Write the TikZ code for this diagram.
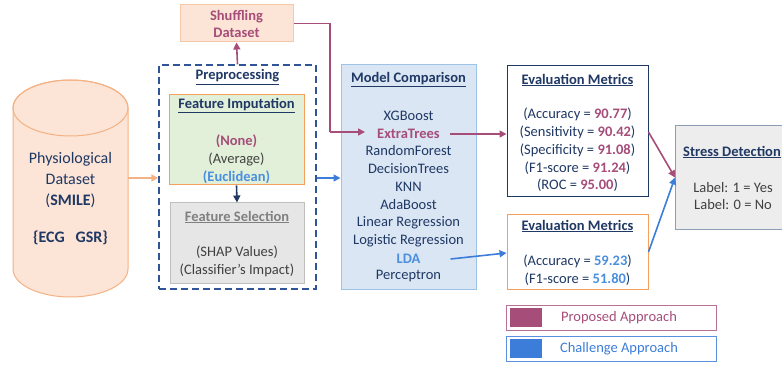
\documentclass[tikz,border=0pt]{standalone}
\usepackage{fontspec}
\setmainfont{Carlito}
\usepackage{xcolor}
\usepackage{tikz}
\usetikzlibrary{shapes, arrows.meta, positioning}

\definecolor{navy}{HTML}{1F3864}
\definecolor{plum}{HTML}{A64D79}
\definecolor{chblue}{HTML}{3C7DD9}
\definecolor{txtblue}{HTML}{4A8FE0}
\definecolor{peach}{HTML}{FCE4D6}
\definecolor{peachline}{HTML}{F4B183}
\definecolor{orline}{HTML}{F4A05A}
\definecolor{mint}{HTML}{E2F0D9}
\definecolor{greyfill}{HTML}{E7E6E6}
\definecolor{greyline}{HTML}{BFBFBF}
\definecolor{greytxt}{HTML}{404040}
\definecolor{bluefill}{HTML}{DAE6F4}
\definecolor{blueline}{HTML}{9DC3E6}
\definecolor{dashblue}{HTML}{2F5597}
\definecolor{stressfill}{HTML}{EDEDED}
\definecolor{stressline}{HTML}{8C9DB5}

\newcommand{\boxtitle}[1]{\underline{\textbf{#1}}}

\begin{document}
\begin{tikzpicture}[x=1pt, y=-1pt,
            box/.style={draw, rectangle, line width=1pt, inner sep=0pt},
            txt/.style={font=\fontsize{14.5}{17.8}\selectfont, align=center, inner sep=0pt},
            ttl/.style={font=\fontsize{14.5}{15}\selectfont, text=navy, inner sep=0pt},
            arr/.style={-{Triangle[length=7pt, width=7pt]}, line width=1.6pt}]
            \useasboundingbox (0,0) rectangle (782,366);

            % input data
            \node[minimum width=115, minimum height=217, inner sep=0pt] (data) at (70.5,188.5) {};
            \draw[draw=peachline, fill=peach, line width=1pt] (13,108) -- (13,269)
                  arc[start angle=180, end angle=360, x radius=57.5pt, y radius=28pt] -- (128,108)
                  arc[start angle=0, end angle=180, x radius=57.5pt, y radius=28pt] -- cycle;
            \draw[draw=peachline, line width=1pt] (70.5,108) ellipse[x radius=57.5pt, y radius=28pt];
            \node[font=\fontsize{16}{21}\selectfont, text=navy, align=center] (datatext) at (70.5,180)
                  {Physiological\\Dataset\\(\textbf{SMILE})};
            \node[font=\fontsize{16}{18}\selectfont\bfseries, text=navy] (signals) at (70.5,238) {\{ECG\ \ \ GSR\}};

            % shuffling
            \node[box, draw=peachline!70, fill=peach, minimum width=113, minimum height=37] (shuffle) at (236.5,23.5) {};
            \node[txt, text=plum, font=\fontsize{14.5}{17}\selectfont\bfseries] (shuffletext) at (236.5,23.5) {Shuffling\\Dataset};

            % preprocessing
            \node[draw=dashblue, line width=1.4pt, dash pattern=on 7pt off 4pt, minimum width=157, minimum height=224, inner sep=0pt] (prep) at (237.5,177) {};
            \node[ttl] (preptitle) at (237.5,77) {\boxtitle{Preprocessing}};
            \node[box, draw=orline, fill=mint, minimum width=135, minimum height=90] (impute) at (236.5,140) {};
            \node[ttl] (imputetitle) at (236.5,106) {\boxtitle{Feature Imputation}};
            \node[txt, text=greytxt] (imputetext) at (236.5,159)
                  {\textcolor{plum}{\textbf{(None)}}\\(Average)\\\textcolor{txtblue}{\textbf{(Euclidean)}}};
            \node[box, draw=greyline, fill=greyfill, minimum width=134, minimum height=80] (select) at (237,243) {};
            \node[ttl, text=gray] (selecttitle) at (237,217) {\boxtitle{Feature Selection}};
            \node[txt, text=greytxt] (selecttext) at (237,261.5) {(SHAP Values)\\(Classifier's Impact)};

            % models
            \node[box, draw=blueline, fill=bluefill, minimum width=135, minimum height=224] (models) at (408.5,177) {};
            \node[ttl] (modeltitle) at (408.5,80) {\boxtitle{Model Comparison}};
            \node[txt, text=navy] (xgb) at (408.5,116) {XGBoost};
            \node[txt, text=plum, font=\fontsize{14.5}{15}\selectfont\bfseries] (et) at (408.5,134) {ExtraTrees};
            \node[txt, text=navy] (others) at (408.5,196.5) {RandomForest\\DecisionTrees\\KNN\\AdaBoost\\Linear Regression\\Logistic Regression};
            \node[txt, text=txtblue, font=\fontsize{14.5}{15}\selectfont\bfseries] (lda) at (408.5,259) {LDA};
            \node[txt, text=navy] (perc) at (408.5,276.5) {Perceptron};

            % evaluation
            \node[box, draw=navy, fill=white, minimum width=141, minimum height=131] (evalA) at (577.5,131.5) {};
            \node[ttl] (evalAtitle) at (577.5,80) {\boxtitle{Evaluation Metrics}};
            \node[txt, text=navy] (evalAtext) at (577.5,150)
                  {(Accuracy = \textcolor{plum}{\textbf{90.77}})\\(Sensitivity = \textcolor{plum}{\textbf{90.42}})\\(Specificity = \textcolor{plum}{\textbf{91.08}})\\(F1-score = \textcolor{plum}{\textbf{91.24}})\\(ROC = \textcolor{plum}{\textbf{95.00}})};
            \node[box, draw=orline, fill=white, minimum width=141, minimum height=74] (evalB) at (577.5,252) {};
            \node[ttl] (evalBtitle) at (577.5,226) {\boxtitle{Evaluation Metrics}};
            \node[txt, text=navy] (evalBtext) at (577.5,270)
                  {(Accuracy = \textcolor{txtblue}{\textbf{59.23}})\\(F1-score = \textcolor{txtblue}{\textbf{51.80}})};

            % output
            \node[box, draw=stressline, fill=stressfill, minimum width=130, minimum height=104, anchor=west] (stress) at (675,177.5) {};
            \node[ttl, anchor=west] (stresstitle) at (683,152) {\boxtitle{Stress Detection}};
            \node[txt, text=greytxt] (stresstext) at (733,196) {Label: 1 = Yes\\Label: 0 = No};

            % legend
            \node[box, draw=plum!80, minimum width=210, minimum height=25] (legA) at (611,317.5) {};
            \node[rectangle, fill=plum, minimum width=32, minimum height=19, inner sep=0pt] (legAsw) at (526,317.5) {};
            \node[txt, text=plum] (legAtext) at (619,317.5) {Proposed Approach};
            \node[box, draw=chblue!85, minimum width=210, minimum height=25] (legB) at (611,348.5) {};
            \node[rectangle, fill=chblue, minimum width=32, minimum height=19, inner sep=0pt] (legBsw) at (526,348.5) {};
            \node[txt, text=chblue] (legBtext) at (619,348.5) {Challenge Approach};

            % connectors
            \coordinate (bend1) at (330,23.5);
            \coordinate (bend2) at (330,132);
            \draw[arr, draw=peachline] (data.east |- 0,178) -- (prep.west |- 0,178);
            \draw[arr, draw=plum] (prep.north) -- (shuffle.south);
            \draw[line width=1.6pt, draw=plum] (shuffle.east) -- (bend1) -- (bend2);
            \draw[arr, draw=plum] (bend2) -- ([xshift=-12]bend2 -| et.west);
            \draw[arr, draw=navy] (impute.south) -- (select.north);
            \draw[arr, draw=chblue] (prep.east |- 0,178) -- (models.west |- 0,178);
            \draw[arr, draw=plum] ([xshift=10]et.east) -- (evalA.west |- et.east);
            \draw[arr, draw=chblue] ([xshift=30]lda.east) -- (evalB.west |- 0,253);
            \draw[arr, draw=plum] (evalA.east |- 0,132) -- (stress.west);
            \draw[arr, draw=chblue] (evalB.east |- 0,252) -- (stress.west);
        \end{tikzpicture}
\end{document}
